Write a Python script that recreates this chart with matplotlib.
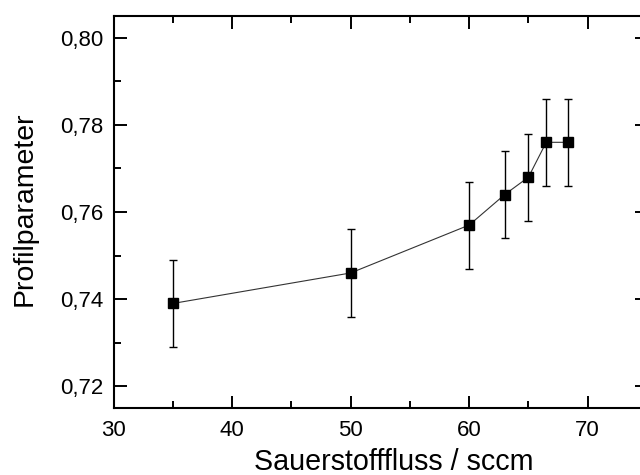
import numpy as np
import matplotlib.pyplot as plt
from matplotlib.ticker import MultipleLocator, FuncFormatter

plt.rcParams['font.family'] = ['Liberation Sans', 'DejaVu Sans']

fluss = [35, 50, 60, 63, 65, 66.5, 68.3]
profil = [0.739, 0.746, 0.757, 0.764, 0.768, 0.776, 0.776]
fehler = [0.010, 0.010, 0.010, 0.010, 0.010, 0.010, 0.010]

fig = plt.figure(figsize=(6.4, 4.75), dpi=100)
ax = fig.add_axes([113.5 / 640, 67 / 475, (647 - 113.5) / 640, (459 - 67) / 475])

ax.errorbar(fluss, profil, yerr=fehler, fmt='s-', color='black', ecolor='black',
            markersize=7, linewidth=0.8, elinewidth=1.0, capsize=3, capthick=1.0)
ax.lines[0].set_color('#333333')
ax.lines[0].set_markerfacecolor('black')
ax.lines[0].set_markeredgecolor('black')

ax.set_xlim(30, 75)
ax.set_ylim(0.715, 0.805)
ax.xaxis.set_major_locator(MultipleLocator(10))
ax.xaxis.set_minor_locator(MultipleLocator(5))
ax.yaxis.set_major_locator(MultipleLocator(0.02))
ax.yaxis.set_minor_locator(MultipleLocator(0.01))
ax.yaxis.set_major_formatter(FuncFormatter(lambda v, p: f"{v:.2f}".replace('.', ',')))

ax.tick_params(which='both', direction='in', top=True, right=True, width=1.4, labelsize=16)
ax.tick_params(which='major', length=9)
ax.tick_params(which='minor', length=5)
ax.tick_params(axis='y', which='major', pad=7)
ax.tick_params(axis='x', which='major', pad=9)
for s in ax.spines.values():
    s.set_linewidth(1.5)

ax.set_xlabel("Sauerstofffluss / sccm", fontsize=20.6)
ax.set_ylabel("Profilparameter", fontsize=20.5)
ax.xaxis.set_label_coords(0.526, -0.102)
ax.yaxis.set_label_coords(-0.143, 0.508)

fig.savefig("out.png", dpi=100)
